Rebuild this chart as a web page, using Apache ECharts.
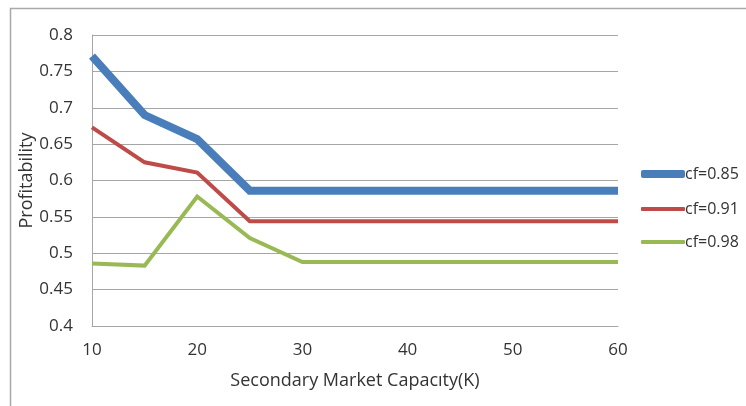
<!DOCTYPE html>
<html>
<head>
<meta charset="utf-8">
<script src="https://cdn.jsdelivr.net/npm/echarts@6/dist/echarts.min.js"></script>
<style>
  html, body { margin: 0; padding: 0; background: #fff; }
  #chart { width: 746px; height: 406px; }
</style>
</head>
<body>
<div id="chart"></div>
<script>
// Secondary market capacity (K)
const capacity = [10, 15, 20, 25, 30, 35, 40, 45, 50, 55, 60];

// Profitability per cost factor
const cf085 = [0.771, 0.690, 0.657, 0.586, 0.586, 0.586, 0.586, 0.586, 0.586, 0.586, 0.586];
const cf091 = [0.673, 0.625, 0.611, 0.544, 0.544, 0.544, 0.544, 0.544, 0.544, 0.544, 0.544];
const cf098 = [0.486, 0.483, 0.578, 0.521, 0.488, 0.488, 0.488, 0.488, 0.488, 0.488, 0.488];

const seriesNames = ['cf=0.85', 'cf=0.91', 'cf=0.98'];
const xTicks = [10, 20, 30, 40, 50, 60];
const yTicks = [0.4, 0.45, 0.5, 0.55, 0.6, 0.65, 0.7, 0.75, 0.8];

const FONT = '"Open Sans", "Liberation Sans", sans-serif';
const colors = ['#4a7ebb', '#be4b48', '#98b954'];
const widths = [8, 4, 4];

const pairs = arr => capacity.map((x, i) => [x, arr[i]]);
const allData = [cf085, cf091, cf098];

const chart = echarts.init(document.getElementById('chart'), null, { renderer: 'canvas' });

const legendTops = [161, 196, 229];
const legends = seriesNames.map((name, i) => ({
  data: [{ name: name, icon: 'roundRect', itemStyle: { color: colors[i] } }],
  left: 636,
  top: legendTops[i],
  orient: 'vertical',
  itemWidth: 44,
  itemHeight: widths[i],
  textStyle: { fontFamily: FONT, fontSize: 16, color: '#333', padding: [0, 0, 0, -5] }
}));

chart.setOption({
  animation: false,
  backgroundColor: '#fff',
  graphic: [{
    type: 'rect',
    shape: { x: 10.5, y: 8.5, width: 760, height: 420 },
    style: { fill: 'none', stroke: '#a9a9a9', lineWidth: 1.5 },
    silent: true
  }],
  grid: { left: 92, top: 35, right: 128, bottom: 80 },
  legend: legends,
  xAxis: {
    type: 'value',
    min: 10,
    max: 60,
    interval: 10,
    name: 'Secondary Market Capacıty(K)',
    nameLocation: 'middle',
    nameGap: 46,
    nameMoveOverlap: false,
    nameTextStyle: { fontFamily: FONT, fontSize: 18, color: '#333' },
    axisLine: { show: true, lineStyle: { color: '#a6a6a6', width: 1 } },
    axisTick: { show: false },
    splitLine: { show: false },
    axisLabel: {
      margin: 16,
      fontFamily: FONT, fontSize: 17, color: '#333',
      formatter: v => xTicks.includes(v) ? String(v) : ''
    }
  },
  yAxis: {
    type: 'value',
    min: 0.4,
    max: 0.8,
    interval: 0.05,
    name: 'Profitability',
    nameLocation: 'middle',
    nameGap: 56,
    nameMoveOverlap: false,
    nameRotate: 90,
    nameTextStyle: { fontFamily: FONT, fontSize: 18, color: '#333' },
    axisLine: { show: true, lineStyle: { color: '#a6a6a6', width: 1 } },
    axisTick: { show: false },
    splitLine: { show: true, lineStyle: { color: '#a6a6a6', width: 1 } },
    axisLabel: {
      margin: 19,
      fontFamily: FONT, fontSize: 17, color: '#333',
      formatter: v => {
        const t = yTicks.find(y => Math.abs(y - v) < 1e-9);
        return t === undefined ? '' : String(t);
      }
    }
  },
  series: seriesNames.map((name, i) => ({
    name: name,
    type: 'line',
    data: pairs(allData[i]),
    showSymbol: false,
    symbol: 'none',
    itemStyle: { color: colors[i] },
    lineStyle: { color: colors[i], width: widths[i], join: 'miter', cap: 'butt' },
    z: 10 - i
  }))
});
</script>
</body>
</html>
